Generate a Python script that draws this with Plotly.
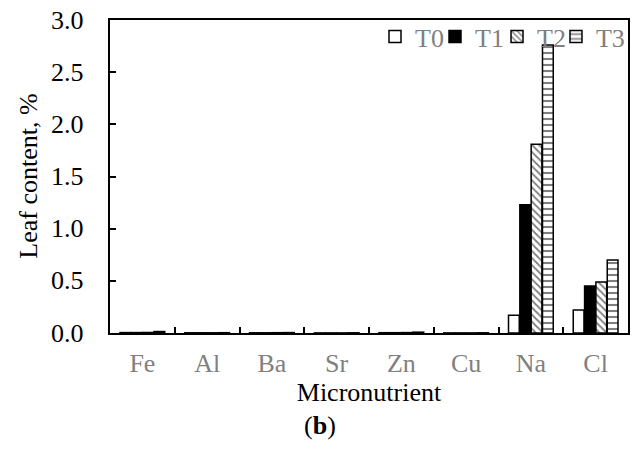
import plotly.graph_objects as go

categories = ["Fe", "Al", "Ba", "Sr", "Zn", "Cu", "Na", "Cl"]
series_names = ["T0", "T1", "T2", "T3"]
t0 = [0.004, 0.002, 0.002, 0.001, 0.003, 0.001, 0.17, 0.22]
t1 = [0.004, 0.002, 0.002, 0.001, 0.003, 0.001, 1.23, 0.45]
t2 = [0.005, 0.002, 0.003, 0.001, 0.004, 0.001, 1.81, 0.49]
t3 = [0.014, 0.003, 0.004, 0.002, 0.008, 0.002, 2.76, 0.70]
y_ticks = [0.0, 0.5, 1.0, 1.5, 2.0, 2.5, 3.0]
y_tick_labels = ["0.0", "0.5", "1.0", "1.5", "2.0", "2.5", "3.0"]

styles = [
    dict(color="white", pattern=dict(shape="")),
    dict(color="black", pattern=dict(shape="")),
    dict(color="white", pattern=dict(shape="\\", fgcolor="black", bgcolor="white", size=5, solidity=0.35)),
    dict(color="white", pattern=dict(shape="-", fgcolor="black", bgcolor="white", size=6, solidity=0.35)),
]
legend_ids = ["legend", "legend2", "legend3", "legend4"]
legend_x = [0.5106, 0.6262, 0.7457, 0.8593]

fig = go.Figure()
for name, vals, st, lid in zip(series_names, [t0, t1, t2, t3], styles, legend_ids):
    fig.add_trace(go.Bar(
        x=categories, y=vals, name=name, legend=lid,
        marker=dict(color=st["color"], pattern=st["pattern"],
                    line=dict(color="black", width=1.5)),
    ))

font_family = "Liberation Serif, Times New Roman, serif"
legend_common = dict(xanchor="left", y=1.022, yanchor="top",
                     font=dict(size=26, color="#808080"), bgcolor="rgba(0,0,0,0)",
                     itemwidth=30, borderwidth=0)
fig.update_layout(
    width=632, height=450,
    margin=dict(l=110, r=3, t=20, b=117),
    paper_bgcolor="white", plot_bgcolor="white",
    barmode="group", bargap=0.3, bargroupgap=0.05,
    font=dict(family=font_family, size=26, color="black"),
    showlegend=True,
    legend=dict(x=legend_x[0], **legend_common),
    legend2=dict(x=legend_x[1], **legend_common),
    legend3=dict(x=legend_x[2], **legend_common),
    legend4=dict(x=legend_x[3], **legend_common),
    xaxis=dict(
        showline=True, linecolor="black", linewidth=2, mirror=True,
        ticks="inside", tickson="boundaries", ticklen=6, tickcolor="black", tickwidth=1.5,
        tickfont=dict(size=26, color="#808080"),
        ticklabelstandoff=6,
        title=dict(text="Micronutrient", font=dict(size=26, color="black"), standoff=4),
        showgrid=False,
    ),
    yaxis=dict(
        range=[0, 3.0], tickvals=y_ticks, showticklabels=False,
        showline=True, linecolor="black", linewidth=2, mirror=True,
        ticks="inside", ticklen=6, tickcolor="black", tickwidth=1.5,
        showgrid=False, zeroline=False,
    ),
)
for v, lab in zip(y_ticks, y_tick_labels):
    fig.add_annotation(text=lab, xref="paper", yref="y", x=-0.046, y=v,
                       xanchor="right", yanchor="middle", showarrow=False,
                       font=dict(size=26, color="black"))
fig.add_annotation(text="Leaf content, %", textangle=-90, xref="paper", yref="paper",
                   x=-0.158, y=0.5, xanchor="center", yanchor="middle", showarrow=False,
                   font=dict(size=26, color="black"))
fig.add_annotation(text="(<b>b</b>)", xref="paper", yref="paper", x=0.405, y=-0.295,
                   showarrow=False, font=dict(size=26, color="black"), yanchor="middle")

fig.write_html("out.html")
